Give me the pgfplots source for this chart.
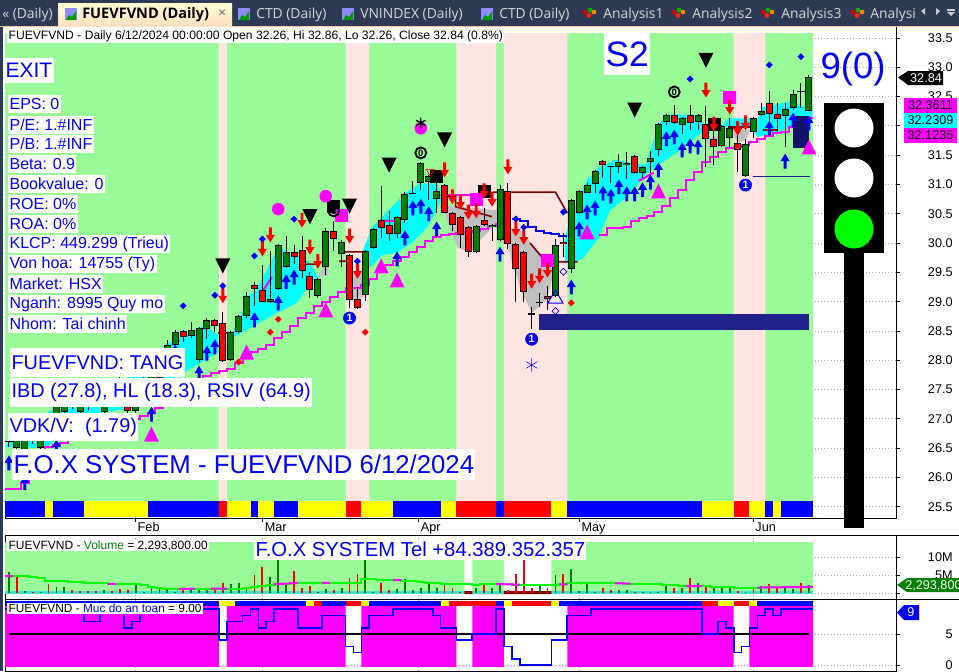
\documentclass[border=0pt]{standalone}
\usepackage{fontspec}
\setmainfont{Liberation Sans}
\newfontfamily\tabfont{Open Sans}
\usepackage{pgfplots}
\usepackage{pgfplotstable}
\pgfplotsset{compat=1.18}

\definecolor{bandgreen}{HTML}{98FB98}
\definecolor{bandpink}{HTML}{FFE4E1}
\definecolor{fxblue}{HTML}{0000FF}
\definecolor{upgreen}{HTML}{008000}
\definecolor{dnred}{HTML}{FF0000}
\definecolor{fxmag}{HTML}{FF00FF}
\definecolor{fxcyan}{HTML}{00FFFF}
\definecolor{fxgray}{HTML}{C0C0C0}
\definecolor{fxyellow}{HTML}{FFFF00}
\definecolor{darkred}{HTML}{800000}
\definecolor{fxnavy}{HTML}{20208A}
\definecolor{fxnavyb}{HTML}{12126A}
\definecolor{turq}{HTML}{40E0D0}
\definecolor{tabbar}{HTML}{2C3A55}
\definecolor{limeline}{HTML}{00FF00}

% 1 px of the screenshot = 0.75pt
\pgfdeclareplotmark{uparr}{\pgfpathmoveto{\pgfqpoint{0pt}{5.6pt}}\pgfpathlineto{\pgfqpoint{3.4pt}{0pt}}\pgfpathlineto{\pgfqpoint{1.1pt}{0pt}}\pgfpathlineto{\pgfqpoint{1.1pt}{-5.6pt}}\pgfpathlineto{\pgfqpoint{-1.1pt}{-5.6pt}}\pgfpathlineto{\pgfqpoint{-1.1pt}{0pt}}\pgfpathlineto{\pgfqpoint{-3.4pt}{0pt}}\pgfpathclose\pgfusepathqfill}
\pgfdeclareplotmark{dnarr}{\pgfpathmoveto{\pgfqpoint{0pt}{-5.6pt}}\pgfpathlineto{\pgfqpoint{3.4pt}{0pt}}\pgfpathlineto{\pgfqpoint{1.1pt}{0pt}}\pgfpathlineto{\pgfqpoint{1.1pt}{5.6pt}}\pgfpathlineto{\pgfqpoint{-1.1pt}{5.6pt}}\pgfpathlineto{\pgfqpoint{-1.1pt}{0pt}}\pgfpathlineto{\pgfqpoint{-3.4pt}{0pt}}\pgfpathclose\pgfusepathqfill}
\pgfdeclareplotmark{triup}{\pgfpathmoveto{\pgfqpoint{0pt}{5.6pt}}\pgfpathlineto{\pgfqpoint{5.6pt}{-5.6pt}}\pgfpathlineto{\pgfqpoint{-5.6pt}{-5.6pt}}\pgfpathclose\pgfusepathqfill}
\pgfdeclareplotmark{tridn}{\pgfpathmoveto{\pgfqpoint{0pt}{-5.6pt}}\pgfpathlineto{\pgfqpoint{5.6pt}{5.6pt}}\pgfpathlineto{\pgfqpoint{-5.6pt}{5.6pt}}\pgfpathclose\pgfusepathqfill}
\pgfdeclareplotmark{dia}{\pgfpathmoveto{\pgfqpoint{0pt}{2.6pt}}\pgfpathlineto{\pgfqpoint{2.6pt}{0pt}}\pgfpathlineto{\pgfqpoint{0pt}{-2.6pt}}\pgfpathlineto{\pgfqpoint{-2.6pt}{0pt}}\pgfpathclose\pgfusepathqfill}
\pgfdeclareplotmark{diao}{\pgfpathmoveto{\pgfqpoint{0pt}{2.6pt}}\pgfpathlineto{\pgfqpoint{2.6pt}{0pt}}\pgfpathlineto{\pgfqpoint{0pt}{-2.6pt}}\pgfpathlineto{\pgfqpoint{-2.6pt}{0pt}}\pgfpathclose\pgfusepathqstroke}

% k lo bot top hi  (price)
\pgfplotstableread{
k lo bot top hi
1 26.43 26.50 26.67 26.71
2 26.43 26.47 26.71 26.74
4 26.47 26.50 26.81 26.88
6 26.81 26.90 27.24 27.29
7 27.01 27.12 27.41 27.46
9 27.05 27.12 27.41 27.46
12 27.07 27.12 27.53 27.60
14 27.32 27.41 27.70 27.77
16 26.98 27.13 27.58 27.63
17 27.39 27.46 27.70 27.77
18 27.46 27.58 27.83 27.90
19 27.60 27.70 28.00 28.07
20 27.80 27.92 28.26 28.35
21 28.18 28.26 28.48 28.52
23 28.38 28.41 28.52 28.65
24 27.97 28.00 28.55 28.57
25 28.36 28.53 28.69 28.72
28 27.99 28.00 28.48 28.50
29 28.47 28.48 28.76 28.77
30 28.72 28.76 29.10 29.17
33 28.98 28.99 29.05 29.87
34 29.20 29.22 29.97 29.98
35 29.57 29.59 29.85 30.12
39 29.06 29.10 29.39 29.40
40 29.45 29.59 30.21 30.26
42 29.59 29.81 30.02 30.05
45 29.01 29.11 29.87 29.88
46 29.90 29.92 30.24 30.26
49 30.09 30.16 30.45 30.46
50 30.34 30.39 30.84 30.87
52 30.91 31.02 31.37 31.38
53 30.74 31.04 31.14 31.16
54 30.51 30.75 30.89 31.25
59 29.83 29.85 30.29 30.31
61 30.04 30.27 30.31 30.33
62 30.04 30.05 30.92 30.99
69 29.08 29.10 29.97 30.07
71 29.49 29.56 30.74 30.75
72 30.50 30.51 30.89 30.91
73 30.85 30.85 30.99 31.02
74 30.85 31.01 31.23 31.25
77 31.20 31.30 31.38 31.52
78 31.09 31.33 31.37 31.55
80 31.11 31.20 31.30 31.31
81 31.20 31.38 31.45 31.57
82 31.49 31.59 32.03 32.05
83 32.01 32.07 32.19 32.20
85 31.86 32.01 32.13 32.15
87 31.93 32.07 32.19 32.20
90 31.64 31.66 32.00 32.01
91 31.62 31.79 31.96 32.13
93 31.13 31.14 31.69 31.78
94 31.79 31.90 32.13 32.15
95 32.17 32.19 32.25 32.39
98 31.64 32.17 32.29 32.39
99 32.27 32.30 32.54 32.61
101 32.26 32.26 32.84 32.86
}\cgreen
\pgfplotstableread{
k lo bot top hi
5 26.64 26.71 26.90 26.98
10 27.15 27.24 27.36 27.42
13 27.22 27.29 27.41 27.46
15 27.05 27.13 27.32 27.39
22 28.31 28.40 28.50 28.52
26 28.48 28.58 28.69 28.70
27 27.97 27.99 28.64 28.82
31 28.93 29.22 29.28 29.34
32 28.99 28.99 29.20 29.63
36 29.64 29.76 29.85 29.97
37 29.40 29.52 29.88 30.12
38 29.06 29.20 29.44 29.51
41 29.87 30.07 30.21 30.38
43 28.89 29.03 29.80 29.81
44 28.88 28.89 29.05 29.25
47 30.09 30.26 30.39 30.97
48 30.04 30.16 30.31 30.55
55 30.51 30.51 30.99 31.01
56 30.21 30.31 30.51 30.53
57 29.92 30.14 30.45 30.46
58 29.76 29.85 30.27 30.29
60 30.29 30.31 30.39 30.60
63 29.90 29.98 30.89 31.02
64 28.99 29.56 29.98 30.00
65 28.99 29.17 29.85 29.87
68 28.86 29.05 29.10 29.27
70 29.76 29.98 30.02 30.17
75 31.11 31.33 31.40 31.42
79 31.18 31.20 31.49 31.50
84 32.03 32.05 32.19 32.36
86 31.93 32.05 32.19 32.36
88 31.30 31.78 32.03 32.34
89 31.33 31.64 31.78 32.13
92 31.21 31.59 31.71 31.96
96 31.93 32.20 32.39 32.60
97 31.88 32.12 32.20 32.39
}\cred
\pgfplotstableread{
k lo mid hi
0 26.52 26.62 26.71
3 26.57 26.67 26.78
8 27.17 27.27 27.36
11 27.32 27.41 27.49
51 30.84 30.84 31.06
66 28.53 28.79 28.91
67 28.91 28.99 29.15
76 31.02 31.31 31.31
100 32.30 32.58 32.73
}\cdoji

% volume in millions
\pgfplotstableread{
k v
0 5.9
2 0.6
4 0.5
6 1.7
7 1.7
12 0.8
16 2.6
17 0.5
18 1.6
19 1.2
20 0.8
21 0.5
23 1.4
24 1.4
25 1.5
28 2.7
29 2.9
30 1.6
33 4.5
34 9.3
35 2.6
39 0.3
40 1.1
42 1.5
45 9.3
46 0.5
49 1.1
50 3.9
51 0.9
52 1.5
53 2.6
54 1.6
59 1.5
61 1.5
62 2.9
67 2.4
69 5.1
71 6.7
72 0.7
73 2.9
74 0.5
77 0.8
78 1.0
80 0.5
81 0.5
82 0.3
83 2.4
85 1.5
87 2.9
89 1.6
90 1.5
91 1.6
93 0.5
95 2.0
98 1.5
99 1.1
101 2.3
}\vgreen
\pgfplotstableread{
k v
1 4.8
3 0.5
5 2.6
8 0.8
9 0.7
10 0.6
11 0.6
13 0.6
14 1.2
15 1.0
22 1.6
26 1.6
27 2.9
31 5.1
32 7.3
36 6.2
37 1.6
38 2.0
41 0.9
43 4.2
44 5.4
47 2.9
48 0.9
55 2.4
56 1.5
57 0.4
58 0.5
60 2.6
63 0.9
64 5.4
65 9.3
66 1.6
68 1.6
70 5.4
75 1.5
76 0.8
79 0.5
84 1.6
86 4.2
88 2.2
92 0.7
94 1.6
96 2.6
97 1.6
100 2.9
}\vred
\pgfplotstableread{
k v
0 4.8
1 4.8
2 4.8
3 4.5
4 4.2
5 3.5
6 3.5
7 3.4
8 3.1
9 3.1
10 2.9
11 2.8
12 2.8
13 2.6
14 2.6
15 2.6
16 2.6
17 2.2
18 1.8
19 1.5
20 1.2
21 1.1
22 1.2
23 1.3
24 1.3
25 1.3
26 1.3
27 1.3
28 1.3
29 1.3
30 1.5
31 1.7
32 1.9
33 2.2
34 2.5
35 2.7
36 2.9
37 2.9
38 2.9
39 2.9
40 2.9
41 2.9
42 2.9
43 2.9
44 2.9
45 4.1
46 4.0
47 3.8
48 3.8
49 3.7
50 3.5
51 3.3
52 3.1
53 2.9
54 2.8
55 2.7
56 2.6
57 2.5
58 2.5
59 2.4
60 2.6
61 2.6
62 2.6
63 2.5
64 2.4
65 2.4
66 2.3
67 2.3
68 2.3
69 2.3
70 2.5
71 2.9
72 2.9
73 2.9
74 2.8
75 2.8
76 2.9
77 2.8
78 2.7
79 2.7
80 2.7
81 2.5
82 2.5
83 2.3
84 2.3
85 2.0
86 2.0
87 2.0
88 2.0
89 1.8
90 1.7
91 1.7
92 1.6
93 1.6
94 1.6
95 1.6
96 1.7
97 1.7
98 1.7
99 1.8
100 1.8
101 1.8
102 1.8
}\vma

% moving average under the candles, step per bar
\pgfplotstableread{
k p
0 25.80
1 25.80
2 25.91
3 26.13
4 26.33
5 26.52
6 26.55
7 26.59
8 26.64
9 26.67
10 26.74
11 26.81
12 26.88
13 26.93
14 26.96
15 26.98
16 27.00
17 27.05
18 27.10
19 27.19
20 27.25
21 27.36
22 27.46
23 27.54
24 27.66
25 27.73
26 27.78
27 27.82
28 27.85
29 27.95
30 28.09
31 28.14
32 28.19
33 28.26
34 28.38
35 28.48
36 28.58
37 28.72
38 28.81
39 28.93
40 28.99
41 29.08
42 29.17
43 29.23
44 29.23
45 29.28
46 29.39
47 29.54
48 29.63
49 29.69
50 29.76
51 29.85
52 29.93
53 30.04
54 30.10
55 30.14
56 30.16
57 30.17
58 30.19
59 30.21
60 30.24
61 30.29
62 30.33
63 30.36
64 nan
75 30.14
76 30.26
77 30.26
78 30.27
79 30.38
80 30.43
81 30.46
82 30.53
83 30.63
84 30.77
85 30.91
86 31.08
87 31.21
88 31.38
89 31.47
90 31.55
91 31.62
92 31.64
93 31.67
94 31.72
95 31.78
96 31.83
97 31.88
98 31.90
99 31.98
100 32.07
101 32.13
102 32.13
}\mamag
\pgfplotstableread{
k p
64 30.41
65 30.38
66 30.27
67 30.21
68 30.17
69 30.16
70 30.12
71 30.12
}\mablue

% safety level, value holds from the bar's left edge
\pgfplotstableread{
e v
0 9
10 7
12 9
15 6
16 7
17 9
27 4
28 7
30 8
31 9
32 6
33 7
34 9
37 6
40 8
43 3
44 2
45 6
46 8
49 9
54 8
55 6
57 4
59 5
62 9
63 3
64 1
65 0
69 4
71 8
74 9
88 5
90 7
91 6
92 2
93 3
94 6
95 8
96 9
97 8
98 9
102 9
}\safety

\pgfplotsset{
  bgfill/.style={draw=none,fill=#1,forget plot},
  vbar/.style 2 args={draw=none,mark=none,forget plot,error bars/.cd,y dir=plus,y explicit,error mark=none,error bar style={line width=#1,draw=#2}},
  hseg/.style 2 args={draw=none,mark=none,forget plot,error bars/.cd,x dir=plus,x explicit,error mark=none,error bar style={line width=#1,draw=#2}},
  mk/.style={only marks,forget plot},
  panel/.style={
    scale only axis,width=668.25pt,
    xmin=-0.5,xmax=112,
    axis line style={line width=0.75pt},
    xtick={16,32.05,51.75,72.05,94},
    ymajorgrids=true,xmajorgrids=true,
    major grid style={dotted,gray!70,line width=0.6pt},
    yticklabel pos=right,
    tick align=outside,
    major tick length=3pt,
    xtick style={draw=none},
    ytick style={black,line width=0.6pt},
    /pgf/number format/assume math mode=true,
    tick label style={font=\fontsize{9.5pt}{10pt}\selectfont},
    unbounded coords=jump,
  },
}

\begin{document}
\begin{tikzpicture}
\useasboundingbox (0,0) rectangle (719.25pt,-503.25pt);
\fill[white] (0,0) rectangle (719.25pt,-503.25pt);

% ---------- price panel
\begin{axis}[panel,at={(3.75pt,-388.5pt)},anchor=south west,height=368.25pt,
  ymin=25.3084,ymax=33.6872,
  ytick={25.5,26,...,33.5},
  /pgf/number format/fixed,/pgf/number format/fixed zerofill,/pgf/number format/precision=1,
  yticklabel style={anchor=east,xshift=43pt},
  xticklabels={Feb,Mar,Apr,May,Jun},
  xtick style={black,draw=black,line width=0.6pt},
  xticklabel style={anchor=north west,xshift=-2pt,yshift=3pt},
]
\addplot[bgfill=bandgreen] coordinates {(-0.5,25.599)(-0.5,33.585)(101.5,33.585)(101.5,25.599)};
\addplot[bgfill=bandpink] coordinates {(26.5,25.599)(26.5,33.585)(27.5,33.585)(27.5,25.599)(42.5,25.599)(42.5,33.585)(45.5,33.585)(45.5,25.599)(56.5,25.599)(56.5,33.585)(61.5,33.585)(61.5,25.599)(62.5,25.599)(62.5,33.585)(70.5,33.585)(70.5,25.599)(91.5,25.599)(91.5,33.585)(95.5,33.585)(95.5,25.599)};

% bottom colour strip, 16 px high
\addplot[hseg={12pt}{fxblue}] table[row sep=\\,x=a,y expr=25.4625,x error plus expr=\thisrow{b}-\thisrow{a}] {a b\\-0.5 4.5\\5.5 9.5\\17.5 26.5\\30.5 31.5\\33.5 36.5\\48.5 54.5\\61.5 62.5\\70.5 87.5\\95.5 96.5\\97.5 101.5\\};
\addplot[hseg={12pt}{fxyellow}] table[row sep=\\,x=a,y expr=25.4625,x error plus expr=\thisrow{b}-\thisrow{a}] {a b\\4.5 5.5\\9.5 17.5\\27.5 30.5\\31.5 33.5\\36.5 42.5\\44.5 48.5\\54.5 56.5\\68.5 70.5\\87.5 91.5\\93.5 95.5\\96.5 97.5\\};
\addplot[hseg={12pt}{dnred}] table[row sep=\\,x=a,y expr=25.4625,x error plus expr=\thisrow{b}-\thisrow{a}] {a b\\26.5 27.5\\42.5 44.5\\56.5 61.5\\62.5 68.5\\91.5 93.5\\};

% cyan and grey clouds
\addplot[bgfill=fxcyan] coordinates {(-0.5,26.52)(1.4,26.81)(6.45,27.24)(14,27.58)(19.7,28.26)(24.75,28.60)(26.4,28.43)(26.4,28.14)(22,27.78)(19.1,27.58)(15.9,27.19)(9.6,27.07)(4.55,26.50)};
\addplot[bgfill=fxcyan] coordinates {(27.66,28.35)(29.2,28.74)(30.05,29.08)(31.3,29.20)(34,29.93)(35.5,29.83)(37.6,29.71)(38.4,29.57)(39,29.42)(37.6,29.23)(36.4,28.98)(33.85,28.81)(31.7,28.65)(29.55,28.48)};
\addplot[bgfill=fxcyan] coordinates {(44.7,29.88)(45.8,30.26)(50,30.85)(51.9,31.02)(54.05,31.02)(54.7,30.77)(53.8,30.51)(52.8,30.27)(51,30.02)(49,29.83)(47.2,29.80)(45.2,29.54)(44.6,29.49)};
\addplot[bgfill=fxcyan] coordinates {(70.2,29.66)(70.2,30.10)(71.2,30.56)(73,31.08)(74.6,31.30)(76.5,31.42)(80.3,31.33)(81.3,31.71)(81.8,31.93)(82.2,32.05)(83.2,32.19)(87.3,32.19)(87.9,31.93)(87.6,31.90)(85.1,31.62)(83.5,31.47)(82,31.33)(80.6,31.20)(78.05,30.79)(75.9,30.56)(74.25,30.05)(72.5,29.75)(71.75,29.69)};
\addplot[bgfill=fxcyan] coordinates {(90,31.98)(90.8,32.13)(93.55,32.13)(94.2,32.01)(95.1,32.32)(98.6,32.41)(101.4,32.30)(101.4,32.13)(98.9,31.98)(96.5,31.88)(94.5,31.81)(93.8,31.96)};
\addplot[bgfill=fxgray] coordinates {(26.5,28.35)(27.66,28.35)(27.66,28.00)(26.5,28.18)};
\addplot[bgfill=fxgray] coordinates {(39,29.42)(40.3,29.75)(40.3,29.45)};
\addplot[bgfill=fxgray] coordinates {(42.4,29.49)(44.7,29.49)(44.7,29.08)(43.4,29.03)(42.7,29.25)};
\addplot[bgfill=fxgray] coordinates {(54.4,30.65)(61.75,30.56)(61.75,30.36)(59.85,30.10)(58.2,29.83)(56.6,29.93)(55.3,30.39)};
\addplot[bgfill=fxgray] coordinates {(61.75,30.79)(63,30.91)(63.1,30.27)(64.9,30.19)(67.3,29.76)(69,29.68)(68.55,29.37)(67.9,29.03)(66.05,28.81)(64.8,29.15)(63.5,29.66)(63,30.00)(61.75,30.00)};
\addplot[bgfill=fxgray] coordinates {(87.9,31.76)(90,31.88)(89.8,31.64)(88.5,31.64)};
\addplot[bgfill=fxgray] coordinates {(91.4,31.93)(93.55,31.93)(93.2,31.79)(92.3,31.72)(91.7,31.76)};

% lines
\addplot[const plot,fxmag,line width=1.5pt,forget plot] table[x expr=\thisrow{k}-0.5,y=p] {\mamag};
\addplot[const plot,fxblue,line width=1.5pt,forget plot] table[x expr=\thisrow{k}-0.5,y=p] {\mablue};
\addplot[fxmag,line width=1.5pt,forget plot] coordinates {(31.7,29.11)(33.2,29.42)(34,nan)(47.3,30.38)(48.7,30.38)(49,nan)(54.5,30.82)(60.7,30.82)(61,nan)(79.5,31.06)(81.4,31.20)};
\addplot[darkred,line width=1.2pt,forget plot] coordinates {(26.4,28.47)(27.7,28.47)(28,nan)(37.3,29.64)(39,29.64)(40,nan)(41.7,29.69)(43,29.69)(43,nan)(42.4,29.85)(44.7,29.85)(45,nan)(55,30.80)(56.4,30.80)(56.4,30.62)(61,30.45)(61.1,nan)(61.1,30.87)(69,30.87)(70.5,30.51)(70.6,nan)(65.8,30.00)(67.3,29.76)(67.4,nan)(68.7,29.68)(71.8,29.68)(72,nan)(90.8,31.98)(93.6,31.98)(94,nan)(95.2,31.93)(97,31.93)};

% marks behind the candles
\addplot[mk,mark=square*,mark size=4.5pt,black] coordinates {(41,30.63)(54,31.14)(60,30.89)(89,32.03)};
\addplot[mk,mark=*,mark size=4.5pt,fxmag] coordinates {(34,30.58)(40,30.80)(52,31.96)};
\addplot[mk,mark=square*,mark size=4.5pt,fxmag] coordinates {(42,30.48)(59,30.74)(68,29.71)(91,32.49)};
\addplot[mk,mark=triup,fxmag] coordinates {(40,28.86)(30,28.14)(47,29.61)(49,29.37)(18,26.74)(73,30.19)(82,30.89)(101,31.64)};

% candles
\addplot[vbar={0.75pt}{black}] table[x=k,y=lo,y error plus expr=\thisrow{hi}-\thisrow{lo}] {\cgreen};
\addplot[vbar={0.75pt}{black}] table[x=k,y=lo,y error plus expr=\thisrow{hi}-\thisrow{lo}] {\cred};
\addplot[vbar={0.75pt}{black}] table[x=k,y=lo,y error plus expr=\thisrow{hi}-\thisrow{lo}] {\cdoji};
\addplot[hseg={0.9pt}{black}] table[x expr=\thisrow{k}-0.45,y=mid,x error plus expr=0.9] {\cdoji};
\addplot[vbar={5.25pt}{black}] table[x=k,y=bot,y error plus expr=\thisrow{top}-\thisrow{bot}] {\cgreen};
\addplot[vbar={5.25pt}{black}] table[x=k,y=bot,y error plus expr=\thisrow{top}-\thisrow{bot}] {\cred};
\addplot[vbar={3.75pt}{upgreen}] table[x=k,y expr=\thisrow{bot}+0.017,y error plus expr=\thisrow{top}-\thisrow{bot}-0.034] {\cgreen};
\addplot[vbar={3.75pt}{dnred}] table[x=k,y expr=\thisrow{bot}+0.017,y error plus expr=\thisrow{top}-\thisrow{bot}-0.034] {\cred};

% navy zones
\addplot[bgfill=fxnavy] coordinates {(66.9,28.52)(66.9,28.79)(101,28.79)(101,28.52)};
\addplot[fxnavy,line width=0.75pt,forget plot] coordinates {(93.9,31.14)(101.1,31.14)};

% arrows, triangles, diamonds and numbered signals
\addplot[mk,mark=uparr,fxblue] coordinates {(24,27.78)(21,28.14)(25,28.12)(26,28.23)(31,28.69)(34,28.98)(35,29.34)(36,29.42)(49,29.73)(50,30.09)(51,30.60)(52,30.63)(53,30.50)(54,30.24)(18,27.08)(0,26.25)(6,26.52)(2,25.91)(62,29.81)(71,29.25)(72,30.24)(73,30.53)(74,30.60)(75,30.85)(76,30.80)(77,30.96)(78,30.84)(79,30.84)(80,30.91)(81,31.04)(82,31.25)(83,31.78)(84,31.81)(85,31.59)(86,31.66)(87,31.64)(96,31.96)(98,31.40)(99,32.10)(101,32.05)};
\addplot[mk,mark=dnarr,dnred] coordinates {(27,29.10)(32,29.90)(33,30.14)(37,30.39)(38,29.93)(39,29.69)(43,30.12)(44,29.52)(55,31.25)(56,30.79)(57,30.70)(58,30.53)(59,30.55)(60,30.89)(61,30.75)(63,31.30)(64,30.24)(65,30.10)(66,29.35)(67,29.44)(68,29.54)(88,32.61)(89,32.03)(91,32.32)(92,31.96)(93,32.05)};
\addplot[mk,mark=tridn,black] coordinates {(27,29.61)(38,30.45)(43,30.63)(48,31.33)(55,31.76)(79,32.27)(88,33.12)};
\addplot[mk,mark=dia,fxblue] coordinates {(22,28.93)(26,29.11)(27,29.27)(31,29.78)(32,30.07)(36,30.41)(44,29.69)(64,30.41)(65,30.27)(70,30.53)(86,32.80)(96,33.04)(100,33.18)};
\addplot[mk,mark=dia,dnred] coordinates {(29,27.97)(33,28.48)(34,28.70)(45,28.48)(71,28.98)};
\addplot[mk,mark=diao,fxblue,line width=0.5pt] coordinates {(70,29.51)(69,28.84)};
\addplot[mk,mark=triangle,fxblue,mark size=6.5pt,line width=0.7pt] coordinates {(69,29.05)};
\addplot[mk,mark=triangle,dnred,mark size=3.5pt,line width=0.5pt,mark options={rotate=180}] coordinates {(53.2,31.22)};
\addplot[mk,mark=asterisk,black,mark size=4pt,line width=1pt] coordinates {(52,32.05)};
\addplot[mk,mark=asterisk,fxblue,mark size=5pt,line width=0.4pt] coordinates {(66,27.92)};
\addplot[mk,mark=*,mark size=4.6pt,fxblue,nodes near coords={1},nodes near coords style={anchor=center,inner sep=0pt,text=white,font=\fontsize{8pt}{8pt}\selectfont\bfseries}] coordinates {(43,28.72)(66,28.36)(93,30.99)};
\addplot[mk,mark=o,mark size=4.1pt,black,line width=1.4pt,mark options={fill=none},nodes near coords={0},nodes near coords style={anchor=center,inner sep=0pt,text=black,font=\fontsize{7pt}{7pt}\selectfont\bfseries}] coordinates {(41,30.55)(52,31.54)(84,32.58)};
\addplot[bgfill=fxnavyb] coordinates {(99,31.62)(99,32.17)(101,32.17)(101,31.62)};
\end{axis}

% ---------- volume panel
\begin{axis}[panel,at={(3.75pt,-449.25pt)},anchor=south west,height=48pt,
  ymin=-1.58,ymax=16.2,
  ytick={0,5,10},yticklabels={,5M,10M},
  yticklabel style={anchor=east,xshift=43pt},
  xticklabels={},
]
\addplot[bgfill=bandgreen] coordinates {(-0.5,0)(-0.5,14.2)(101.5,14.2)(101.5,0)};
\addplot[bgfill=white] coordinates {(57.5,-0.2)(57.5,14.2)(58.5,14.2)(58.5,-0.2)(62.5,-0.2)(62.5,14.2)(68.5,14.2)(68.5,-0.2)};
\addplot[bgfill=turq] coordinates {(-0.5,-0.2)(-0.5,0.6)(101.5,0.6)(101.5,-0.2)};
\addplot[bgfill=darkred] coordinates {(57.5,-0.2)(57.5,0.6)(58.5,0.6)(58.5,-0.2)(62.5,-0.2)(62.5,0.6)(68.5,0.6)(68.5,-0.2)};
\addplot[ycomb,upgreen,line width=1.4pt,forget plot] table[x=k,y=v] {\vgreen};
\addplot[ycomb,dnred,line width=1.4pt,forget plot] table[x=k,y=v] {\vred};
\addplot[const plot,limeline,line width=1.5pt,forget plot] table[x expr=\thisrow{k}-0.5,y=v] {\vma};
\addplot[fxmag,line width=1.5pt,forget plot] coordinates {(-0.5,4.8)(0.5,4.8)(1,nan)(12.5,2.6)(13.5,2.6)(14,nan)(21.5,1.2)(23.5,1.3)(24,nan)(25.5,1.3)(27.5,1.3)(28,nan)(33.5,2.5)(36.5,2.9)(37,nan)(39.5,2.9)(40.5,2.9)(41,nan)(48.5,3.7)(49.5,3.7)(50,nan)(61.5,2.6)(64.5,2.4)(65,nan)(69.5,2.5)(70.5,2.5)(71,nan)(76.5,2.8)(78.5,2.7)(79,nan)(84.5,2.0)(85,nan)(85.5,2.0)(87.5,2.0)(88,nan)(94.5,1.6)(101.5,1.8)};
\end{axis}

% ---------- safety panel
\begin{axis}[panel,at={(3.75pt,-503.25pt)},anchor=south west,height=54pt,
  ymin=-0.968,ymax=10.645,
  ytick={0,5},
  yticklabel style={anchor=east,xshift=43pt},
  xticklabels={},
]
\addplot[bgfill=fxmag] coordinates {(-0.5,-0.32)(-0.5,9.56)(26.5,9.56)(26.5,-0.32)(27.5,-0.32)(27.5,9.56)(42.5,9.56)(42.5,-0.32)(44.5,-0.32)(44.5,9.56)(56.5,9.56)(56.5,-0.32)(58.5,-0.32)(58.5,9.56)(62.5,9.56)(62.5,-0.32)(70.5,-0.32)(70.5,9.56)(91.5,9.56)(91.5,-0.32)(93.5,-0.32)(93.5,9.56)(101.5,9.56)(101.5,-0.32)};
\addplot[hseg={3.5pt}{fxblue}] table[row sep=\\,x=a,y expr=9.94,x error plus expr=\thisrow{b}-\thisrow{a}] {a b\\-0.5 26.5\\28.5 37.5\\39.5 42.5\\45.5 54.5\\61.5 62.5\\69.5 87.5\\94.5 101.5\\};
\addplot[hseg={3.5pt}{fxyellow}] table[row sep=\\,x=a,y expr=9.94,x error plus expr=\thisrow{b}-\thisrow{a}] {a b\\26.5 28.5\\37.5 38.5\\44.5 45.5\\54.5 55.5\\62.5 63.5\\68.5 69.5\\89.5 91.5\\93.5 94.5\\};
\addplot[hseg={3.5pt}{dnred}] table[row sep=\\,x=a,y expr=9.94,x error plus expr=\thisrow{b}-\thisrow{a}] {a b\\38.5 39.5\\42.5 44.5\\55.5 61.5\\63.5 68.5\\87.5 89.5\\91.5 93.5\\};
\addplot[black,line width=1.2pt,forget plot] coordinates {(0,5)(101,5)};
\addplot[const plot,fxblue,line width=1.3pt,forget plot] table[x expr=\thisrow{e}-0.5,y=v] {\safety};
\end{axis}

% ---------- window parts, labels, price tags, traffic light
\begin{scope}[x=0.75pt,y=-0.75pt]
% x, y centre, font size, box height in pt, text
\newcommand{\lbl}[5]{\node[anchor=west,fill=white,text=fxblue,inner xsep=1pt,inner ysep=0pt,minimum height=#4,font=\fontsize{#3}{#3}\selectfont] at (#1,#2) {#5};}
\newcommand{\lblk}[4]{\node[anchor=west,fill=white,text=black,inner xsep=1pt,inner ysep=0.5pt,font=\fontsize{#3}{#3}\selectfont] at (#1,#2) {#4};}

\draw[black,line width=0.75pt] (5,535) -- (959,535);
\draw[black,line width=0.75pt] (5,599) -- (959,599);

% tab bar
\fill[tabbar] (0,0) rectangle (959,26);
\fill[tabbar] (0,0) rectangle (3,671);
\fill[white] (3,27) rectangle (5,671);
\fill[white] (5,27) rectangle (896,32.5);
\draw[black!10!orange!40,line width=0.9pt] (0,26.3) -- (959,26.3);
\shade[top color=white!60!yellow!40,bottom color=orange!25!white] (58,3) rectangle (232,26);
\foreach \x in {65,238,342,481} {\fill[blue!45!white] (\x,8) rectangle (\x+12,20);\fill[green!60!black] (\x+1,20) -- (\x+4,15) -- (\x+7,17) -- (\x+11,11) -- (\x+11,20) -- cycle;}
\foreach \x in {585,674,763,853} {\fill[red!85!black] (\x,12) circle (2.4);\fill[green!70!black] (\x+5,10) circle (2.4);\fill[orange] (\x+9,12) circle (2.4);\fill[red!70!orange] (\x+4,15.5) circle (2.4);}
\node[anchor=west,text=white!85!black,inner sep=0pt,font=\tabfont\fontsize{10.4pt}{11pt}\selectfont] at (2,14.5) {\guillemotleft\ (Daily)};
\node[anchor=west,text=black,inner sep=0pt,font=\tabfont\fontsize{10.9pt}{11pt}\selectfont\bfseries] at (82,14.5) {FUEVFVND (Daily)};
\node[anchor=west,text=black!60,inner sep=0pt,font=\tabfont\fontsize{10pt}{11pt}\selectfont] at (218,14) {×};
\node[anchor=west,text=white!85!black,inner sep=0pt,font=\tabfont\fontsize{10.4pt}{11pt}\selectfont] at (256,14.5) {CTD (Daily)};
\node[anchor=west,text=white!85!black,inner sep=0pt,font=\tabfont\fontsize{10.4pt}{11pt}\selectfont] at (360,14.5) {VNINDEX (Daily)};
\node[anchor=west,text=white!85!black,inner sep=0pt,font=\tabfont\fontsize{10.4pt}{11pt}\selectfont] at (499,14.5) {CTD (Daily)};
\node[anchor=west,text=white!85!black,inner sep=0pt,font=\tabfont\fontsize{10.4pt}{11pt}\selectfont] at (603,14.5) {Analysis1};
\node[anchor=west,text=white!85!black,inner sep=0pt,font=\tabfont\fontsize{10.4pt}{11pt}\selectfont] at (692,14.5) {Analysis2};
\node[anchor=west,text=white!85!black,inner sep=0pt,font=\tabfont\fontsize{10.4pt}{11pt}\selectfont] at (781,14.5) {Analysis3};
\node[anchor=west,text=white!85!black,inner sep=0pt,font=\tabfont\fontsize{10.4pt}{11pt}\selectfont] at (870,14.5) {Analysi};
\fill[white!80!black] (921,11) -- (925,8) -- (925,15) -- cycle;
\fill[white!80!black] (936,8) -- (940,11) -- (936,15) -- cycle;
\fill[white!80!black] (947,9) rectangle (955,10.5);
\fill[white!80!black] (947,12) -- (955,12) -- (951,16) -- cycle;

% chart titles
\lblk{7}{36.5}{9.1pt}{FUEVFVND - Daily 6/12/2024 00:00:00 Open 32.26, Hi 32.86, Lo 32.26, Close 32.84 (0.8\%)}
\lblk{7}{545.5}{9pt}{FUEVFVND - \textcolor{upgreen}{Volume} = 2,293,800.00}
\lblk{7}{608.5}{8.9pt}{FUEVFVND - \textcolor{fxblue}{Muc do an toan} = 9.00}

% text boxes on the chart
\lbl{4}{70.5}{15.75pt}{18.75pt}{EXIT}
\lbl{8}{104}{12pt}{13.5pt}{EPS: 0}
\lbl{8}{124.5}{12pt}{13.5pt}{P/E: 1.\#INF}
\lbl{8}{144}{12pt}{13.5pt}{P/B: 1.\#INF}
\lbl{8}{164}{12pt}{13.5pt}{Beta: 0.9}
\lbl{8}{184}{12pt}{13.5pt}{Bookvalue: 0}
\lbl{8}{204}{12pt}{13.5pt}{ROE: 0\%}
\lbl{8}{224}{12pt}{13.5pt}{ROA: 0\%}
\lbl{8}{244}{12pt}{13.5pt}{KLCP: 449.299 (Trieu)}
\lbl{8}{264}{12pt}{13.5pt}{Von hoa: 14755 (Ty)}
\lbl{8}{284}{12pt}{13.5pt}{Market: HSX}
\lbl{8}{304}{12pt}{13.5pt}{Nganh: 8995 Quy mo}
\lbl{8}{324}{12pt}{13.5pt}{Nhom: Tai chinh}
\lbl{10}{362.5}{14.9pt}{21.75pt}{FUEVFVND: TANG}
\lbl{10}{392.5}{14.9pt}{21.75pt}{IBD (27.8), HL (18.3), RSIV (64.9)}
\lbl{8}{427}{14.9pt}{21pt}{VDK/V:\ \ (1.79)}
\lbl{12}{464.5}{19.3pt}{23.25pt}{F.O.X SYSTEM - FUEVFVND 6/12/2024}
\lbl{254}{549.5}{15.2pt}{15.75pt}{F.O.X SYSTEM Tel +84.389.352.357}
\lbl{604}{54}{26.5pt}{31.5pt}{S2}
\node[anchor=center,text=fxblue,font=\fontsize{27.4pt}{28pt}\selectfont] at (853,69) {9(0)};

% traffic light
\fill[black] (824,103) rectangle (884,253);
\fill[black] (844,253) rectangle (864,527.5);
\fill[white] (854,128) circle (19.5);
\fill[white] (854,178) circle (19.5);
\fill[limeline] (854,229) circle (19.5);

% price tags on the scale
\fill[black] (898,77.5) -- (908,71) -- (943,71) -- (943,85) -- (908,85) -- cycle;
\node[text=white,inner sep=0pt,font=\fontsize{9.5pt}{10pt}\selectfont] at (926,78) {32.84};
\fill[fxmag] (904,98) rectangle (957,113);
\fill[fxcyan] (904,113) rectangle (957,128);
\fill[fxmag] (904,128) rectangle (957,143);
\node[text=black,inner sep=0pt,font=\fontsize{9.5pt}{10pt}\selectfont] at (930.5,105.5) {32.3611};
\node[text=black,inner sep=0pt,font=\fontsize{9.5pt}{10pt}\selectfont] at (930.5,120.5) {32.2309};
\node[text=black,inner sep=0pt,font=\fontsize{9.5pt}{10pt}\selectfont] at (930.5,135.5) {32.1235};
\begin{scope}
\clip (890,570) rectangle (959,600);
\fill[upgreen] (897,585) -- (907,578) -- (965,578) -- (965,592) -- (907,592) -- cycle;
\node[anchor=west,text=white,inner sep=0pt,font=\fontsize{9.5pt}{10pt}\selectfont] at (905,585.5) {2,293,800};
\end{scope}
\fill[fxblue] (897,612.5) -- (904,605) -- (919,605) -- (919,620) -- (904,620) -- cycle;
\node[text=white,inner sep=0pt,font=\fontsize{9.5pt}{10pt}\selectfont] at (911,612.5) {9};
\end{scope}
\end{tikzpicture}
\end{document}
